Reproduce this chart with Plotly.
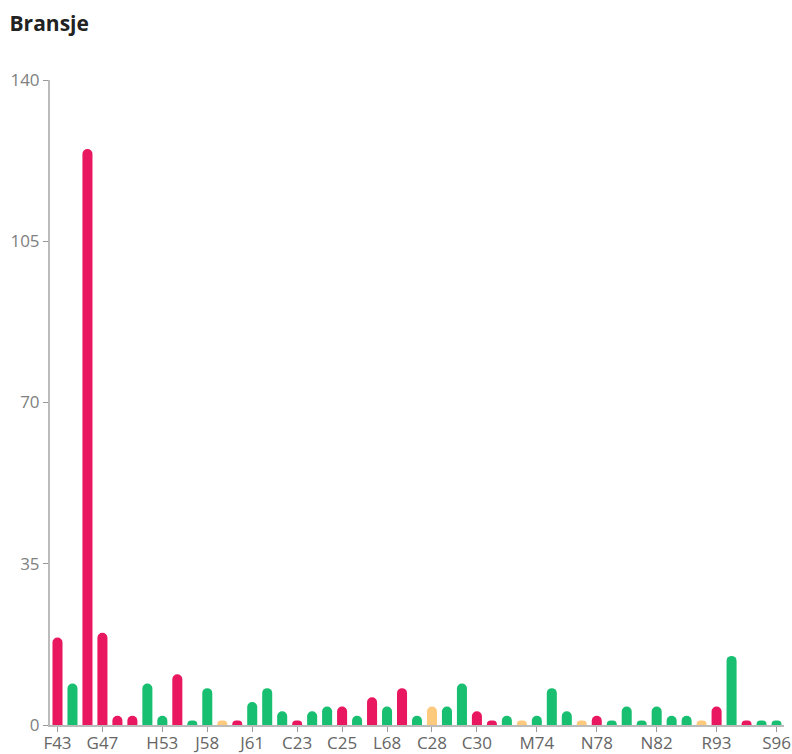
import plotly.graph_objects as go

categories = ["F43", "F41", "G46", "G47", "F42", "G45", "H49", "H53", "H52", "I55", "J58",
              "I56", "J62", "J61", "J63", "C22", "C23", "C24", "C26", "C25", "C27", "L69",
              "L68", "K64", "C29", "C28", "C31", "C32", "C30", "C33", "M71", "M73", "M74",
              "M70", "M72", "N79", "N78", "N77", "N80", "N81", "N82", "Q86", "Q87", "R90",
              "R93", "Q88", "S94", "S95", "S96"]
values = [19, 9, 125, 20, 2, 2, 9, 2, 11, 1, 8, 1, 1, 5, 8, 3, 1, 3, 4, 4, 2, 6, 4, 8, 2,
          4, 4, 9, 3, 1, 2, 1, 2, 8, 3, 1, 2, 1, 4, 1, 4, 2, 2, 1, 4, 15, 1, 1, 1]
status = ["r", "g", "r", "r", "r", "r", "g", "g", "r", "g", "g", "o", "r", "g", "g", "g",
          "r", "g", "g", "r", "g", "r", "g", "r", "g", "o", "g", "g", "r", "r", "g", "o",
          "g", "g", "g", "o", "r", "g", "g", "g", "g", "g", "g", "o", "r", "g", "r", "g", "g"]
shown_labels = ["F43", "G47", "H53", "J58", "J61", "C23", "C25", "L68", "C28", "C30",
                "M74", "N78", "N82", "R93", "S96"]
y_ticks = [0, 35, 70, 105, 140]

palette = {"r": "#E9175F", "g": "#18BF70", "o": "#FDC97C"}
colors = [palette[s] for s in status]

fig = go.Figure(go.Bar(x=categories, y=values, marker=dict(color=colors, line=dict(width=0)),
                       hoverinfo="x+y"))

fig.update_layout(
    width=792, height=754,
    margin=dict(l=50, r=8, t=80, b=29, autoexpand=False),
    paper_bgcolor="white", plot_bgcolor="white",
    bargap=0.33, barcornerradius=5,
    showlegend=False,
    font=dict(family="Open Sans, Segoe UI, sans-serif", color="#666666"),
    title=dict(text="<b>Bransje</b>", x=0.012, xanchor="left", y=0.968, yanchor="middle",
               font=dict(size=21, color="#222222", family="Open Sans, sans-serif")),
)
fig.update_xaxes(
    type="category", range=[-0.5, len(categories) - 0.5], automargin=False,
    tickmode="array", tickvals=shown_labels, ticktext=shown_labels,
    showline=True, linecolor="#BBBBBB", linewidth=2,
    ticks="outside", ticklen=5, tickcolor="#999999", tickwidth=1,
    ticklabelstandoff=-3,
    tickfont=dict(size=17, color="#666666"), showgrid=False, zeroline=False,
)
fig.update_yaxes(
    range=[0, 140], tickvals=y_ticks, automargin=False,
    showline=True, linecolor="#BBBBBB", linewidth=2,
    ticks="outside", ticklen=5, tickcolor="#999999",
    tickfont=dict(size=17, color="#808080"), showgrid=False, zeroline=False,
)

fig.write_html("out.html", config={"displayModeBar": False},
               post_script="document.body.style.margin='0';")
